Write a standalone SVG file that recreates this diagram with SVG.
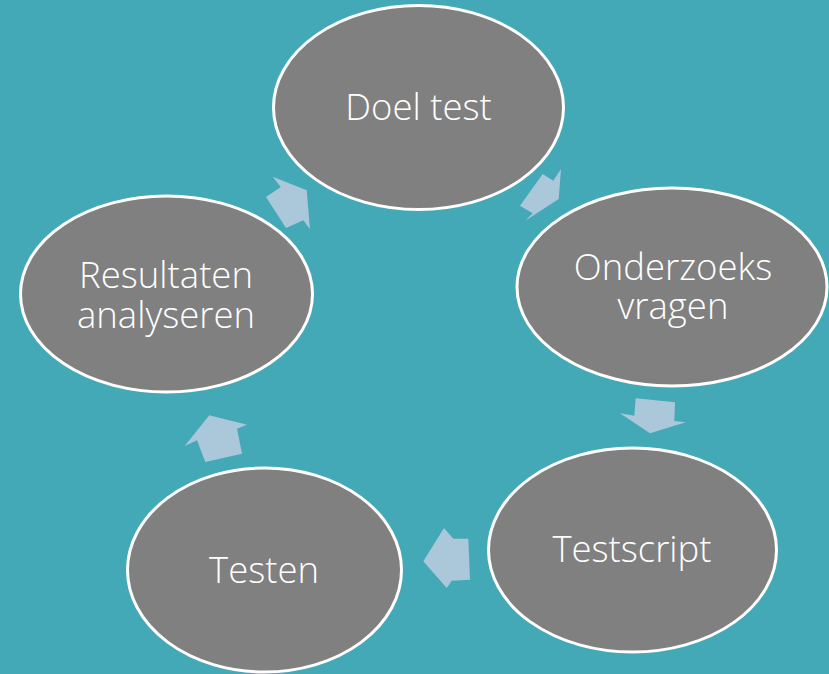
<svg xmlns="http://www.w3.org/2000/svg" width="829" height="674" viewBox="0 0 829 674">
<style>
.node ellipse{fill:#808080;stroke:#ffffff;stroke-width:3}
.node text{font-family:"Open Sans","Liberation Sans",sans-serif;font-weight:300;font-size:36.5px;fill:#ffffff;text-anchor:middle}
.arrow{fill:#abc7da}
</style>
<rect width="829" height="674" fill="#44a9b6"/>
<g id="n1" class="node"><ellipse cx="418.5" cy="107.5" rx="145" ry="102"/><text x="418.5" y="120">Doel test</text></g>
<g id="n2" class="node"><ellipse cx="672" cy="287" rx="155" ry="99"/><text x="673" y="280">Onderzoeks</text><text x="673" y="319">vragen</text></g>
<g id="n3" class="node"><ellipse cx="632.5" cy="550" rx="144" ry="102"/><text x="632" y="562">Testscript</text></g>
<g id="n4" class="node"><ellipse cx="264.5" cy="570" rx="137" ry="102"/><text x="264" y="583">Testen</text></g>
<g id="n5" class="node"><ellipse cx="166.5" cy="294" rx="146" ry="98"/><text x="166" y="288">Resultaten</text><text x="166" y="328">analyseren</text></g>
<g id="connectors">
<polygon class="arrow" points="266,197 280.7,187 272.7,176.7 306.7,190.3 310,229.3 303.3,220.3 286,228"/>
<polygon class="arrow" points="542.7,174 553.3,180.7 561,169 558.7,199 525.3,220.7 532.7,213.3 520,205.7"/>
<polygon class="arrow" points="635.7,398.3 675,402.3 674.3,421 685.7,422.3 650,433.3 620,413.3 634.3,415.7"/>
<polygon class="arrow" points="468.3,538.7 470,579.7 451.7,580.7 446.7,588 423.3,561.3 444,528 453.3,538.7"/>
<polygon class="arrow" points="242,453.7 205.3,462 197,440.3 184.7,446 209.3,415.3 247,424.7 237,428.7"/>
</g>
</svg>
